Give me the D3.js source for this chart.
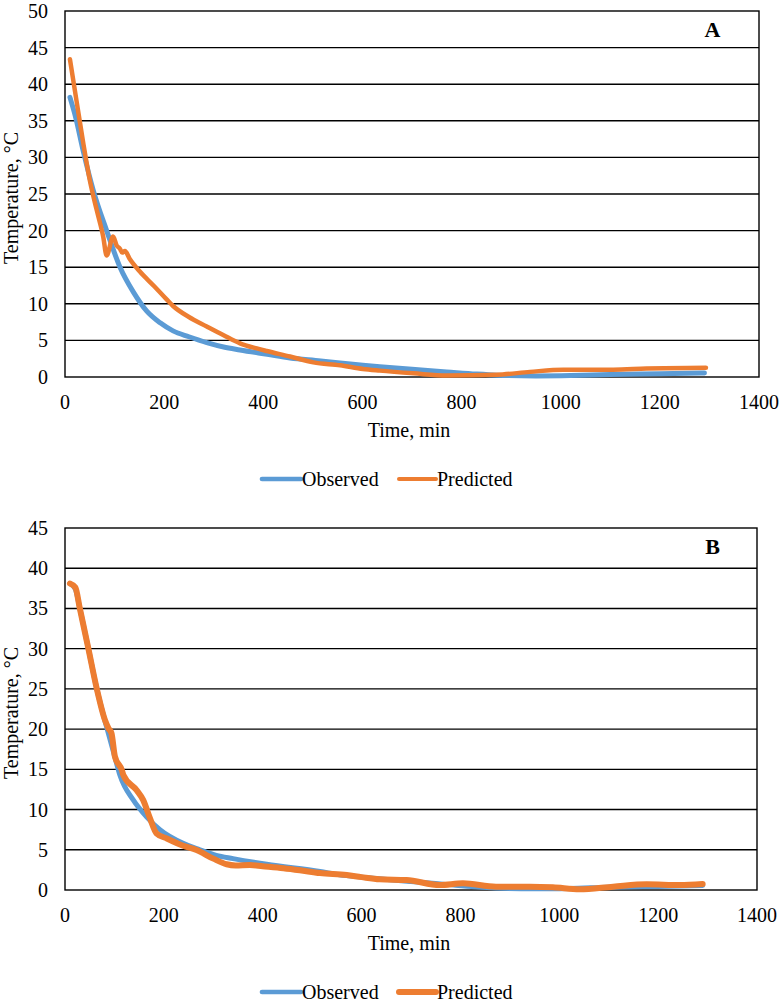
<!DOCTYPE html>
<html>
<head>
<meta charset="utf-8">
<script src="https://cdn.jsdelivr.net/npm/d3@7"></script>
<style>
  html, body { margin: 0; padding: 0; background: #fff; }
  svg { display: block; }
  text { font-family: "Liberation Serif", "Times New Roman", serif; fill: #000; }
</style>
</head>
<body>
<svg id="chart" width="780" height="1005"></svg>
<script>
// ---- Data (time in min, temperature in °C) ----
const xTicks = [0, 200, 400, 600, 800, 1000, 1200, 1400];
const yTicksA = [0, 5, 10, 15, 20, 25, 30, 35, 40, 45, 50];
const yTicksB = [0, 5, 10, 15, 20, 25, 30, 35, 40, 45];
const seriesNames = ["Observed", "Predicted"];
const panelLabels = ["A", "B"];

// Panel A
const observedATime = [10, 21, 37, 57, 84, 111, 138, 165, 192, 218, 250, 286, 320, 353, 408, 454, 516, 555, 601, 635, 700, 770, 830, 871, 950, 1020, 1100, 1200, 1290];
const observedATemp = [38.2, 35.6, 30.8, 25.5, 20.0, 15.0, 11.6, 9.0, 7.4, 6.3, 5.5, 4.7, 4.1, 3.7, 3.1, 2.6, 2.2, 1.9, 1.6, 1.4, 1.05, 0.7, 0.4, 0.25, 0.15, 0.2, 0.35, 0.45, 0.55];

const predictedATime = [10, 24, 37, 50, 64, 77, 84, 97, 104, 111, 115, 121, 130, 151, 180, 205, 218, 250, 286, 320, 353, 387, 407, 454, 501, 555, 601, 635, 703, 770, 871, 938, 1005, 1106, 1173, 1293];
const predictedATemp = [43.4, 37.4, 31.9, 26.9, 22.8, 19.2, 16.6, 19.2, 18.0, 17.5, 17.0, 17.2, 16.2, 14.4, 12.4, 10.6, 9.7, 8.2, 6.9, 5.7, 4.6, 3.9, 3.55, 2.8, 2.0, 1.6, 1.1, 0.87, 0.5, 0.2, 0.3, 0.7, 1.0, 1.0, 1.15, 1.25];

// Panel B
const observedBTime = [10, 21, 30, 47, 64, 84, 101, 111, 138, 165, 192, 239, 273, 306, 340, 408, 516, 555, 601, 635, 700, 770, 830, 871, 950, 1020, 1100, 1200, 1290];
const observedBTemp = [38.1, 37.4, 35.0, 30.1, 25.1, 20.3, 16.5, 14.3, 11.2, 9.1, 7.5, 5.8, 5.0, 4.3, 3.9, 3.2, 2.3, 1.9, 1.6, 1.4, 1.05, 0.7, 0.4, 0.25, 0.15, 0.2, 0.35, 0.45, 0.55];

const predictedBTime = [10, 21, 30, 47, 64, 81, 88, 94, 101, 115, 118, 145, 158, 172, 185, 206, 239, 266, 300, 327, 345, 374, 400, 442, 475, 516, 570, 600, 637, 691, 758, 805, 872, 940, 987, 1041, 1109, 1177, 1244, 1290];
const predictedBTemp = [38.1, 37.6, 35.0, 30.1, 25.1, 21.1, 20.1, 19.5, 16.6, 14.9, 14.3, 12.4, 11.2, 8.9, 7.05, 6.4, 5.5, 4.97, 3.9, 3.2, 3.05, 3.1, 2.95, 2.7, 2.45, 2.1, 1.87, 1.6, 1.33, 1.24, 0.62, 0.83, 0.41, 0.41, 0.33, 0.08, 0.41, 0.7, 0.62, 0.75];

const colors = ["#5B9BD5", "#ED7D31"];

// ---- Panels ----
const zip = (ts, vs) => ts.map((t, i) => [t, vs[i]]);
const panels = [
  { label: panelLabels[0], left: 65, right: 759, top: 11, bottom: 377, yMax: 50, yTicks: yTicksA,
    obs: zip(observedATime, observedATemp), pred: zip(predictedATime, predictedATemp),
    obsW: 5, predW: 4.5, legObsW: 4.7, legPredW: 4 },
  { label: panelLabels[1], left: 65, right: 757, top: 528, bottom: 890, yMax: 45, yTicks: yTicksB,
    obs: zip(observedBTime, observedBTemp), pred: zip(predictedBTime, predictedBTemp),
    obsW: 5, predW: 6, legObsW: 4.7, legPredW: 6 }
];

const svg = d3.select("#chart");

panels.forEach(p => {
  const x = d3.scaleLinear().domain([0, 1400]).range([p.left, p.right]);
  const y = d3.scaleLinear().domain([0, p.yMax]).range([p.bottom, p.top]);
  const g = svg.append("g");

  // gridlines
  g.append("g").selectAll("line").data(p.yTicks.filter(v => v > 0 && v < p.yMax)).join("line")
    .attr("x1", p.left).attr("x2", p.right)
    .attr("y1", d => y(d)).attr("y2", d => y(d))
    .attr("stroke", "#000").attr("stroke-width", 1.4);

  // frame
  g.append("rect").attr("x", p.left).attr("y", p.top)
    .attr("width", p.right - p.left).attr("height", p.bottom - p.top)
    .attr("fill", "none").attr("stroke", "#000").attr("stroke-width", 1.4);

  // y tick labels
  g.append("g").selectAll("text").data(p.yTicks).join("text")
    .attr("x", 48).attr("y", d => y(d) + 7)
    .attr("text-anchor", "end").attr("font-size", 20).text(d => d);

  // x tick labels
  g.append("g").selectAll("text").data(xTicks).join("text")
    .attr("x", d => x(d)).attr("y", p.bottom + 31.5)
    .attr("text-anchor", "middle").attr("font-size", 20).text(d => d);

  // axis titles
  g.append("text").attr("x", 409).attr("y", p.bottom + 60)
    .attr("text-anchor", "middle").attr("font-size", 20).text("Time, min");
  const cy = (p.top + p.bottom) / 2 + 4;
  g.append("text").attr("transform", `translate(18,${cy}) rotate(-90)`)
    .attr("text-anchor", "middle").attr("font-size", 20).text("Temperature, °C");

  // panel label
  g.append("text").attr("x", 712.5).attr("y", p.top + 26)
    .attr("text-anchor", "middle").attr("font-size", 22).attr("font-weight", "bold").text(p.label);

  // lines
  const line = d3.line().x(d => x(d[0])).y(d => y(d[1])).curve(d3.curveMonotoneX);
  g.append("path").datum(p.obs).attr("d", line)
    .attr("fill", "none").attr("stroke", colors[0]).attr("stroke-width", p.obsW)
    .attr("stroke-linecap", "round").attr("stroke-linejoin", "round");
  g.append("path").datum(p.pred).attr("d", line)
    .attr("fill", "none").attr("stroke", colors[1]).attr("stroke-width", p.predW)
    .attr("stroke-linecap", "round").attr("stroke-linejoin", "round");

  // legend
  const ly = p.bottom + 102;
  const leg = [
    { x1: 262, x2: 301, tx: 302, w: p.legObsW },
    { x1: 399, x2: 436, tx: 437, w: p.legPredW }
  ];
  leg.forEach((l, i) => {
    g.append("line").attr("x1", l.x1).attr("x2", l.x2).attr("y1", ly).attr("y2", ly)
      .attr("stroke", colors[i]).attr("stroke-width", l.w).attr("stroke-linecap", "round");
    g.append("text").attr("x", l.tx).attr("y", ly + 7).attr("font-size", 20).text(seriesNames[i]);
  });
});
</script>
</body>
</html>
